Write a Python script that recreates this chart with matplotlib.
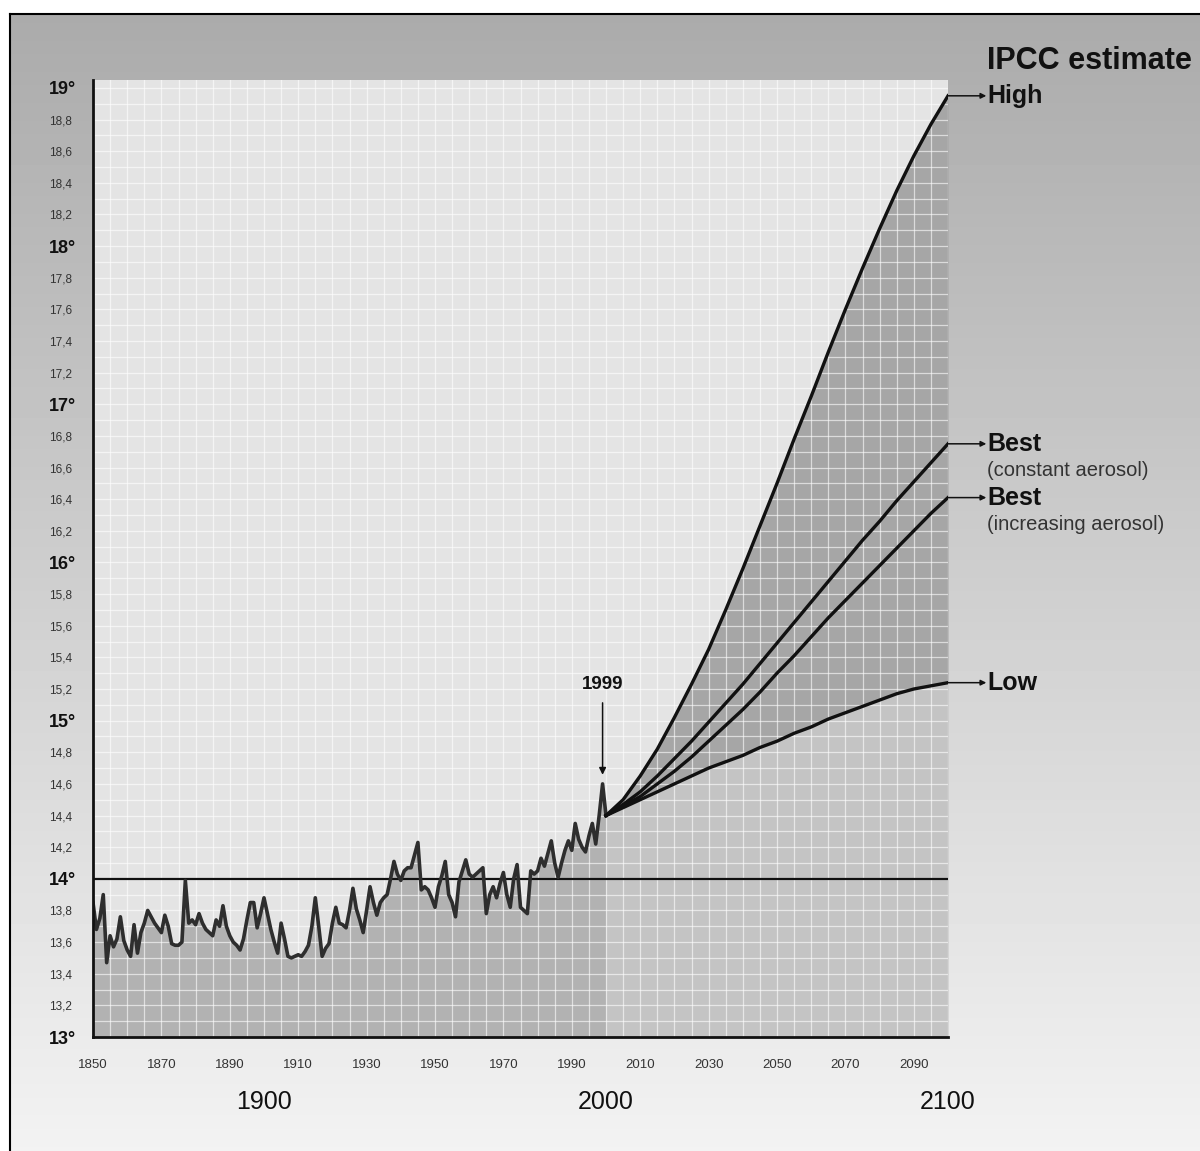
import numpy as np
import matplotlib
matplotlib.use("Agg")
import matplotlib.pyplot as plt
from matplotlib.transforms import blended_transform_factory

plt.rcParams['font.family'] = ['Liberation Sans', 'DejaVu Sans']

# ---------------- data ----------------
hist_years = list(range(1850, 2000))
hist_temps = [
    13.85, 13.68, 13.75, 13.90, 13.47, 13.64, 13.57, 13.62, 13.76, 13.61,
    13.55, 13.51, 13.71, 13.53, 13.66, 13.72, 13.80, 13.76, 13.72, 13.69,
    13.66, 13.77, 13.70, 13.59, 13.58, 13.58, 13.60, 13.99, 13.72, 13.74,
    13.71, 13.78, 13.72, 13.68, 13.66, 13.64, 13.74, 13.70, 13.83, 13.70,
    13.64, 13.60, 13.58, 13.55, 13.62, 13.74, 13.85, 13.85, 13.69, 13.78,
    13.88, 13.78, 13.68, 13.60, 13.53, 13.72, 13.62, 13.51, 13.50, 13.51,
    13.52, 13.51, 13.54, 13.58, 13.70, 13.88, 13.70, 13.51, 13.56, 13.59,
    13.72, 13.82, 13.72, 13.71, 13.69, 13.80, 13.94, 13.81, 13.74, 13.66,
    13.80, 13.95, 13.85, 13.77, 13.85, 13.88, 13.90, 14.00, 14.11, 14.03,
    13.99, 14.05, 14.07, 14.07, 14.15, 14.23, 13.93, 13.95, 13.93, 13.88,
    13.82, 13.95, 14.02, 14.11, 13.90, 13.85, 13.76, 13.98, 14.05, 14.12,
    14.03, 14.01, 14.03, 14.05, 14.07, 13.78, 13.90, 13.95, 13.88, 13.97,
    14.04, 13.90, 13.82, 14.00, 14.09, 13.82, 13.80, 13.78, 14.05, 14.03,
    14.05, 14.13, 14.08, 14.16, 14.24, 14.10, 14.01, 14.10, 14.18, 14.24,
    14.18, 14.35, 14.25, 14.20, 14.17, 14.27, 14.35, 14.22, 14.40, 14.60,
]

proj_years = list(range(2000, 2101, 5))
proj_high = [14.40, 14.50, 14.65, 14.82, 15.02, 15.23, 15.45, 15.70, 15.96, 16.23, 16.50,
             16.78, 17.05, 17.33, 17.60, 17.86, 18.11, 18.35, 18.57, 18.77, 18.95]
proj_best_const = [14.40, 14.47, 14.55, 14.65, 14.76, 14.87, 14.99, 15.11, 15.23, 15.36, 15.49,
                   15.62, 15.75, 15.88, 16.01, 16.14, 16.26, 16.39, 16.51, 16.63, 16.75]
proj_best_incr = [14.40, 14.46, 14.52, 14.60, 14.68, 14.77, 14.87, 14.97, 15.07, 15.18, 15.30,
                  15.41, 15.53, 15.65, 15.76, 15.87, 15.98, 16.09, 16.20, 16.31, 16.41]
proj_low = [14.40, 14.45, 14.50, 14.55, 14.60, 14.65, 14.70, 14.74, 14.78, 14.83, 14.87,
            14.92, 14.96, 15.01, 15.05, 15.09, 15.13, 15.17, 15.20, 15.22, 15.24]

baseline = 14.0
ymin, ymax = 13.0, 19.0
y_major = [13, 14, 15, 16, 17, 18, 19]
y_major_labels = ["13°", "14°", "15°", "16°", "17°", "18°", "19°"]
y_minor = [13.2, 13.4, 13.6, 13.8, 14.2, 14.4, 14.6, 14.8, 15.2, 15.4, 15.6, 15.8,
           16.2, 16.4, 16.6, 16.8, 17.2, 17.4, 17.6, 17.8, 18.2, 18.4, 18.6, 18.8]
y_minor_labels = [f"{v:.1f}".replace(".", ",") for v in y_minor]
x_small = list(range(1850, 2100, 20))
x_big = [1900, 2000, 2100]

labels = [
    ("High", None, proj_high[-1]),
    ("Best", "(constant aerosol)", proj_best_const[-1]),
    ("Best", "(increasing aerosol)", proj_best_incr[-1]),
    ("Low", None, proj_low[-1]),
]

# ---------------- figure ----------------
W, H = 1200, 1151
fig = plt.figure(figsize=(W / 100, H / 100), dpi=100)
fig.patch.set_facecolor("white")

# background gradient panel (with black frame at left/top)
bg = fig.add_axes([10 / W, 0, 1 - 10 / W, 1 - 14 / H], zorder=-10)
grad = np.linspace(0.67, 0.95, 256)[:, None] * np.ones((1, 4))
bg.imshow(grad, cmap="gray", vmin=0, vmax=1, aspect="auto", extent=[0, 1, 0, 1])
bg.set_xticks([]); bg.set_yticks([])
for s in ["right", "bottom"]:
    bg.spines[s].set_visible(False)
for s in ["left", "top"]:
    bg.spines[s].set_linewidth(1.5)
    bg.spines[s].set_color("black")

ax = fig.add_axes([93 / W, (H - 1037) / H, 855 / W, (1037 - 80) / H])
ax.set_xlim(1850, 2100)
ax.set_ylim(ymin, 19.05)
ax.set_facecolor("#e4e4e4")

# grid (white)
for gx in np.arange(1850, 2101, 5):
    ax.axvline(gx, color="white", lw=0.9, alpha=0.6, zorder=1.5)
for gy in np.arange(13.0, 19.05, 0.1):
    ax.axhline(gy, color="white", lw=0.9, alpha=0.6, zorder=1.5)

# fills
hy = np.array(hist_years + [proj_years[0]])
ht = np.array(hist_temps + [proj_low[0]])
ax.fill_between(hy, ymin, ht, color="#b2b2b2", zorder=1, lw=0)
ax.fill_between(proj_years, ymin, proj_low, color="#c4c4c4", zorder=1, lw=0)
ax.fill_between(proj_years, proj_low, proj_high, color="#a6a6a6", zorder=1, lw=0)

# baseline 14°
ax.axhline(baseline, color="#111111", lw=1.6, zorder=3)

# historical series
ax.plot(hy, ht, color="#2e2e2e", lw=2.6, zorder=4, solid_joinstyle="round")

# projections
for series in (proj_high, proj_best_const, proj_best_incr, proj_low):
    ax.plot(proj_years, series, color="#111111", lw=2.4, zorder=4,
            solid_joinstyle="round")

# spines
for s in ["top", "right"]:
    ax.spines[s].set_visible(False)
for s in ["left", "bottom"]:
    ax.spines[s].set_linewidth(2)
    ax.spines[s].set_color("#111111")
    ax.spines[s].set_zorder(5)

# y ticks
ax.set_yticks(y_major)
ax.set_yticklabels(y_major_labels, fontsize=13, fontweight="bold", color="#111111")
ax.set_yticks(y_minor, minor=True)
ax.set_yticklabels(y_minor_labels, minor=True, fontsize=8.5, color="#333333")
ax.tick_params(axis="y", which="major", length=0, pad=12)
ax.tick_params(axis="y", which="minor", length=0, pad=15)

# x ticks
ax.set_xticks(x_small)
ax.set_xticklabels([str(v) for v in x_small], fontsize=9.5, color="#333333")
ax.tick_params(axis="x", length=0, pad=16)
tr = blended_transform_factory(ax.transData, ax.transAxes)
for xb in x_big:
    ax.text(xb, -65 / 957, str(xb), transform=tr, ha="center", va="center",
            fontsize=18, color="#111111", clip_on=False)

# 1999 annotation
ax.annotate("", xy=(1999, 14.64), xytext=(1999, 15.13),
            arrowprops=dict(arrowstyle="-|>", color="#111111", lw=1.1,
                            mutation_scale=10))
ax.text(1999, 15.23, "1999", ha="center", va="center", fontsize=13.5,
        fontweight="bold", color="#111111")

# right-hand labels
label_x = 2111.5
ax.text(label_x, 19.17, "IPCC estimate", ha="left", va="center", fontsize=22,
        fontweight="bold", color="#111111", clip_on=False)
for main, sub, yv in labels:
    ax.annotate("", xy=(label_x - 0.3, yv), xytext=(2100, yv),
                arrowprops=dict(arrowstyle="-|>", color="#111111", lw=1.1,
                                mutation_scale=8, shrinkA=0, shrinkB=0),
                annotation_clip=False)
    ax.text(label_x, yv, main, ha="left", va="center", fontsize=18,
            fontweight="bold", color="#111111", clip_on=False)
    if sub:
        ax.text(label_x, yv - 0.17, sub, ha="left", va="center", fontsize=14.5,
                color="#333333", clip_on=False)

fig.savefig("out.png", dpi=100)
